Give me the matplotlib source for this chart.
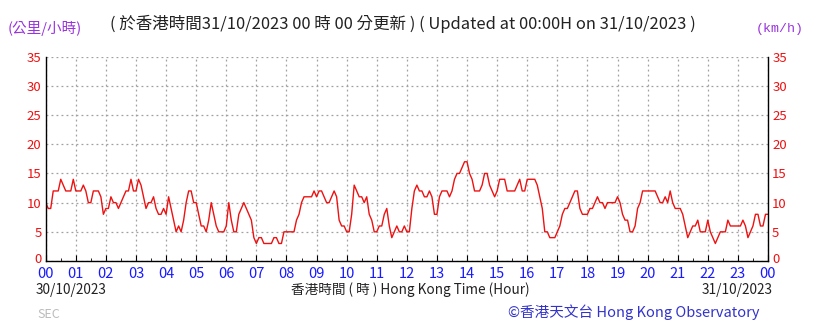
import matplotlib
matplotlib.use("Agg")
import matplotlib.pyplot as plt
import matplotlib.transforms as mtransforms
import numpy as np

plt.rcParams['font.family'] = ['Noto Sans CJK TC', 'DejaVu Sans']

# 5-minute wind speed readings (km/h), 00:00 30/10 to 00:00 31/10
speed = [
    10, 9, 9, 12, 12, 12, 14, 13, 12, 12, 12, 14,      # 00
    12, 12, 12, 13, 12, 10, 10, 12, 12, 12, 11, 8,     # 01
    9, 9, 11, 10, 10, 9, 10, 11, 12, 12, 14, 12,       # 02
    12, 14, 13, 11, 9, 10, 10, 11, 9, 8, 8, 9,         # 03
    8, 11, 9, 7, 5, 6, 5, 7, 10, 12, 12, 10,           # 04
    10, 8, 6, 6, 5, 7, 10, 8, 6, 5, 5, 5,              # 05
    6, 10, 7, 5, 5, 8, 9, 10, 9, 8, 7, 4,              # 06
    3, 4, 4, 3, 3, 3, 3, 4, 4, 3, 3, 5,                # 07
    5, 5, 5, 5, 7, 8, 10, 11, 11, 11, 11, 12,          # 08
    11, 12, 12, 11, 10, 10, 11, 12, 11, 7, 6, 6,       # 09
    5, 5, 8, 13, 12, 11, 11, 10, 11, 8, 7, 5,          # 10
    5, 6, 6, 8, 9, 6, 4, 5, 6, 5, 5, 6,                # 11
    5, 5, 9, 12, 13, 12, 12, 11, 11, 12, 11, 8,        # 12
    8, 11, 12, 12, 12, 11, 12, 14, 15, 15, 16, 17,     # 13
    17, 15, 14, 12, 12, 12, 13, 15, 15, 13, 12, 11,    # 14
    12, 14, 14, 14, 12, 12, 12, 12, 13, 14, 12, 12,    # 15
    14, 14, 14, 14, 13, 11, 9, 5, 5, 4, 4, 4,          # 16
    5, 6, 8, 9, 9, 10, 11, 12, 12, 9, 8, 8,            # 17
    8, 9, 9, 10, 11, 10, 10, 9, 10, 10, 10, 10,        # 18
    11, 10, 8, 7, 7, 5, 5, 6, 9, 10, 12, 12,           # 19
    12, 12, 12, 12, 11, 10, 10, 11, 10, 12, 10, 9,     # 20
    9, 9, 8, 6, 4, 5, 6, 6, 7, 5, 5, 5,                # 21
    7, 5, 4, 3, 4, 5, 5, 5, 7, 6, 6, 6,                # 22
    6, 6, 7, 6, 4, 5, 6, 8, 8, 6, 6, 8,                # 23
    8,
]
hours = np.arange(len(speed)) * 5 / 60.0

hour_labels = ["00", "01", "02", "03", "04", "05", "06", "07", "08", "09", "10", "11",
               "12", "13", "14", "15", "16", "17", "18", "19", "20", "21", "22", "23", "00"]
y_ticks = [0, 5, 10, 15, 20, 25, 30, 35]

W, H = 819, 324
fig = plt.figure(figsize=(W / 100, H / 100), dpi=100)
ax = fig.add_axes([45.7 / W, 1 - 261 / H, (768 - 45.7) / W, (261 - 56.7) / H])

ax.plot(hours, speed, color='#ee1111', lw=1.0)

ax.set_xlim(0, 24)
ax.set_ylim(0, 35)
ax.set_xticks(range(25))
ax.set_xticklabels(hour_labels)
ax.set_xticks(np.arange(0.5, 24, 1), minor=True)
ax.set_yticks(y_ticks)

ax.grid(True, which='major', color='#a0a0a0', linestyle=(0, (1.5, 2.5)), lw=0.9)
ax.spines['top'].set_visible(False)
for s in ['left', 'right', 'bottom']:
    ax.spines[s].set_color('black')
    ax.spines[s].set_linewidth(1.0)

ax.tick_params(axis='x', which='major', direction='in', length=4, colors='black',
               labelcolor='#1a1aff', labelsize=10.5, pad=4)
ax.tick_params(axis='x', which='minor', direction='in', length=2.5, colors='black')
ax.tick_params(axis='y', which='major', direction='in', length=0, labelcolor='#ee1111',
               labelsize=9.5, left=True, right=True, labelleft=True, labelright=True, pad=3)

# lift the "0" labels a little so they sit clear of the hour labels
fig.canvas.draw()
lift = mtransforms.ScaledTranslation(0, 3 / 100, fig.dpi_scale_trans)
yt = ax.yaxis.get_major_ticks()[0]
for lab in (yt.label1, yt.label2):
    lab.set_transform(lab.get_transform() + lift)

def ftext(x, y, s, **kw):
    fig.text(x / W, 1 - y / H, s, **kw)

purple = '#9933dd'
ftext(8, 29, "(公里/小時)", color=purple, fontsize=10.5, ha='left', va='center')
ftext(110, 24, "( 於香港時間31/10/2023 00 時 00 分更新 ) ( Updated at 00:00H on 31/10/2023 )",
      color='#222222', fontsize=11.9, ha='left', va='center')
ftext(780, 29, "(km/h)", color=purple, fontsize=9.5, ha='center', va='center',
      family='Liberation Mono')
ftext(36, 290, "30/10/2023", color='#222222', fontsize=9.8, ha='left', va='center')
ftext(773, 290, "31/10/2023", color='#222222', fontsize=9.8, ha='right', va='center')
ftext(410, 290, "香港時間 ( 時 ) Hong Kong Time (Hour)", color='#222222', fontsize=9.8,
      ha='center', va='center')
ftext(760, 312, "©香港天文台 Hong Kong Observatory", color='#3333cc', fontsize=10.5,
      ha='right', va='center')
ftext(37, 315, "SEC", color='#bbbbbb', fontsize=9, ha='left', va='center')

fig.savefig("out.png", dpi=100)
